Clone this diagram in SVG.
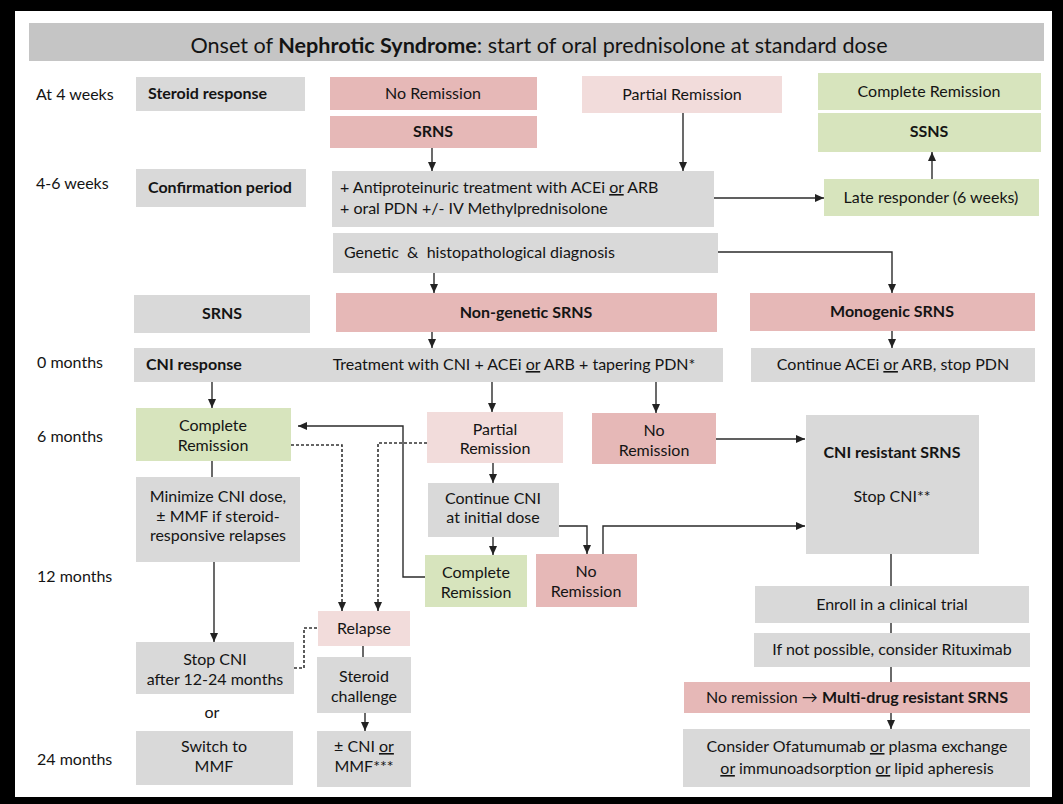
<svg xmlns="http://www.w3.org/2000/svg" width="1063" height="804" viewBox="0 0 1063 804">
<defs>
<style>
text{font-family:Lato,"DejaVu Sans",sans-serif;font-size:16px;fill:#141414}
.t{font-size:21.6px}
.b{font-weight:bold}
.m{text-anchor:middle}
.g{fill:#d9d9d9}
.p{fill:#e6b8b7}
.lp{fill:#f2dcdb}
.gr{fill:#d7e4bd}
.c{fill:none;stroke:#2b2b2b;stroke-width:1.4}
.cl{fill:none;stroke:#5a5a5a;stroke-width:1.8}
.d{fill:none;stroke:#333;stroke-width:1.6;stroke-dasharray:3 2}
.u{text-decoration:underline}
</style>
<marker id="ah" markerUnits="userSpaceOnUse" markerWidth="9" markerHeight="8" refX="9" refY="4" orient="auto">
<path d="M0,0 L9,4 L0,8 z" fill="#222"/>
</marker>
</defs>
<rect x="0" y="0" width="1063" height="804" fill="#000"/>
<rect x="15" y="11" width="1037" height="786" fill="#fff"/>

<g id="title">
<rect x="29" y="23" width="1015" height="38" fill="#c5c5c5"/>
<text class="t m" x="539" y="53">Onset of <tspan class="b">Nephrotic Syndrome</tspan>: start of oral prednisolone at standard dose</text>
</g>

<g id="labels">
<text x="36" y="100">At 4 weeks</text>
<text x="36" y="189">4-6 weeks</text>
<text x="37" y="368">0 months</text>
<text x="37" y="442">6 months</text>
<text x="37" y="582">12 months</text>
<text x="37" y="765">24 months</text>
<text class="m" x="212" y="718">or</text>
</g>

<g id="steroid-response"><rect class="g" x="136" y="77" width="169" height="34"/><text class="b" x="148" y="99">Steroid response</text></g>
<g id="no-remission-1"><rect class="p" x="330" y="77" width="207" height="33"/><text class="m" x="433" y="99">No Remission</text></g>
<g id="srns-1"><rect class="p" x="330" y="116" width="207" height="32"/><text class="m b" x="433" y="137">SRNS</text></g>
<g id="partial-remission-1"><rect class="lp" x="582" y="76" width="200" height="37"/><text class="m" x="682" y="100">Partial Remission</text></g>
<g id="complete-remission-1"><rect class="gr" x="818" y="73" width="223" height="37"/><text class="m" x="929" y="97">Complete Remission</text></g>
<g id="ssns"><rect class="gr" x="818" y="113" width="223" height="39"/><text class="m b" x="929" y="137">SSNS</text></g>

<g id="confirmation-period"><rect class="g" x="136" y="169" width="170" height="38"/><text class="b" x="148" y="193">Confirmation period</text></g>
<g id="antiproteinuric"><rect class="g" x="332" y="171" width="382" height="56"/>
<text x="340" y="193">+ Antiproteinuric treatment with ACEi <tspan class="u">or</tspan> ARB</text>
<text x="340" y="214">+ oral PDN +/- IV Methylprednisolone</text></g>
<g id="late-responder"><rect class="gr" x="824" y="179" width="215" height="37"/><text class="m" x="931" y="203">Late responder (6 weeks)</text></g>

<g id="genetic"><rect class="g" x="333" y="233" width="385" height="40"/><text x="344" y="258" xml:space="preserve">Genetic  &amp;  histopathological diagnosis</text></g>

<g id="srns-2"><rect class="g" x="134" y="295" width="176" height="38"/><text class="m b" x="222" y="319">SRNS</text></g>
<g id="non-genetic"><rect class="p" x="336" y="293" width="381" height="39"/><text class="m b" x="526" y="318">Non-genetic SRNS</text></g>
<g id="monogenic"><rect class="p" x="750" y="293" width="285" height="38"/><text class="m b" x="892" y="317">Monogenic SRNS</text></g>

<g id="cni-response"><rect class="g" x="134" y="348" width="589" height="34"/>
<text class="b" x="146" y="370">CNI response</text>
<text class="m" x="514" y="370">Treatment with CNI + ACEi <tspan class="u">or</tspan> ARB + tapering PDN*</text></g>
<g id="continue-acei"><rect class="g" x="751" y="348" width="284" height="34"/><text class="m" x="893" y="370">Continue ACEi <tspan class="u">or</tspan> ARB, stop PDN</text></g>

<g id="complete-remission-2"><rect class="gr" x="136" y="408" width="155" height="53"/><text class="m" x="213" y="431">Complete</text><text class="m" x="213" y="451">Remission</text></g>
<g id="partial-remission-2"><rect class="lp" x="427" y="412" width="136" height="51"/><text class="m" x="495" y="435">Partial</text><text class="m" x="495" y="454">Remission</text></g>
<g id="no-remission-2"><rect class="p" x="592" y="413" width="124" height="51"/><text class="m" x="654" y="436">No</text><text class="m" x="654" y="456">Remission</text></g>
<g id="cni-resistant"><rect class="g" x="806" y="415" width="173" height="139"/><text class="m b" x="892" y="458">CNI resistant SRNS</text><text class="m" x="892" y="502">Stop CNI**</text></g>

<g id="minimize"><rect class="g" x="136" y="477" width="164" height="85"/>
<text class="m" x="218" y="502">Minimize CNI dose,</text>
<text class="m" x="218" y="522">± MMF if steroid-</text>
<text class="m" x="218" y="541">responsive relapses</text></g>
<g id="continue-cni"><rect class="g" x="428" y="483" width="131" height="54"/><text class="m" x="493" y="504">Continue CNI</text><text class="m" x="493" y="523">at initial dose</text></g>
<g id="complete-remission-3"><rect class="gr" x="425" y="555" width="102" height="52"/><text class="m" x="476" y="578">Complete</text><text class="m" x="476" y="598">Remission</text></g>
<g id="no-remission-3"><rect class="p" x="536" y="554" width="101" height="53"/><text class="m" x="586" y="577">No</text><text class="m" x="586" y="597">Remission</text></g>

<g id="enroll"><rect class="g" x="755" y="586" width="274" height="37"/><text class="m" x="892" y="610">Enroll in a clinical trial</text></g>
<g id="relapse"><rect class="lp" x="318" y="611" width="92" height="35"/><text class="m" x="364" y="634">Relapse</text></g>
<g id="if-not"><rect class="g" x="754" y="633" width="276" height="34"/><text class="m" x="892" y="655">If not possible, consider Rituximab</text></g>
<g id="stop-cni"><rect class="g" x="136" y="642" width="158" height="52"/><text class="m" x="215" y="665">Stop CNI</text><text class="m" x="215" y="685">after 12-24 months</text></g>
<g id="steroid-challenge"><rect class="g" x="317" y="657" width="94" height="56"/><text class="m" x="364" y="682">Steroid</text><text class="m" x="364" y="702">challenge</text></g>
<g id="multi-drug"><rect class="p" x="684" y="682" width="346" height="31"/><text class="m" x="857" y="703">No remission → <tspan class="b">Multi-drug resistant SRNS</tspan></text></g>
<g id="switch-mmf"><rect class="g" x="136" y="731" width="157" height="54"/><text class="m" x="214" y="752">Switch to</text><text class="m" x="214" y="772">MMF</text></g>
<g id="cni-or-mmf"><rect class="g" x="317" y="731" width="94" height="56"/><text class="m" x="364" y="752">± CNI <tspan class="u">or</tspan></text><text class="m" x="364" y="772">MMF***</text></g>
<g id="consider"><rect class="g" x="683" y="729" width="347" height="58"/>
<text class="m" x="857" y="752">Consider Ofatumumab <tspan class="u">or</tspan> plasma exchange</text>
<text class="m" x="857" y="774"><tspan class="u">or</tspan> immunoadsorption <tspan class="u">or</tspan> lipid apheresis</text></g>

<g id="connectors">
<path class="c" d="M432,148 V171" marker-end="url(#ah)"/>
<path class="c" d="M683,113 V171" marker-end="url(#ah)"/>
<path class="c" d="M714,198 H824" marker-end="url(#ah)"/>
<path class="c" d="M932,179 V152" marker-end="url(#ah)"/>
<path class="c" d="M434,273 V293" marker-end="url(#ah)"/>
<path class="c" d="M718,252 H892 V293" marker-end="url(#ah)"/>
<path class="c" d="M432,332 V348" marker-end="url(#ah)"/>
<path class="c" d="M892,331 V348" marker-end="url(#ah)"/>
<path class="c" d="M212,382 V408" marker-end="url(#ah)"/>
<path class="c" d="M492,382 V412" marker-end="url(#ah)"/>
<path class="c" d="M656,382 V413" marker-end="url(#ah)"/>
<path class="c" d="M716,439 H805" marker-end="url(#ah)"/>
<path class="cl" d="M212,461 V477"/>
<path class="c" d="M214,562 V642" marker-end="url(#ah)"/>
<path class="c" d="M493,463 V483" marker-end="url(#ah)"/>
<path class="c" d="M493,537 V555" marker-end="url(#ah)"/>
<path class="c" d="M559,526 H587 V554" marker-end="url(#ah)"/>
<path class="c" d="M603,554 V526 H805" marker-end="url(#ah)"/>
<path class="c" d="M425,577 H403 V426 H298" marker-end="url(#ah)"/>
<path class="d" d="M291,445 H342 V611" marker-end="url(#ah)"/>
<path class="d" d="M427,443 H378 V611" marker-end="url(#ah)"/>
<path class="d" d="M294,668 H304 V628 H318"/>
<path class="cl" d="M363,646 V657"/>
<path class="c" d="M365,713 V731" marker-end="url(#ah)"/>
<path class="cl" d="M891,554 V586"/>
<path class="cl" d="M891,623 V633"/>
<path class="cl" d="M891,667 V682"/>
<path class="c" d="M891,713 V729" marker-end="url(#ah)"/>
</g>
</svg>
